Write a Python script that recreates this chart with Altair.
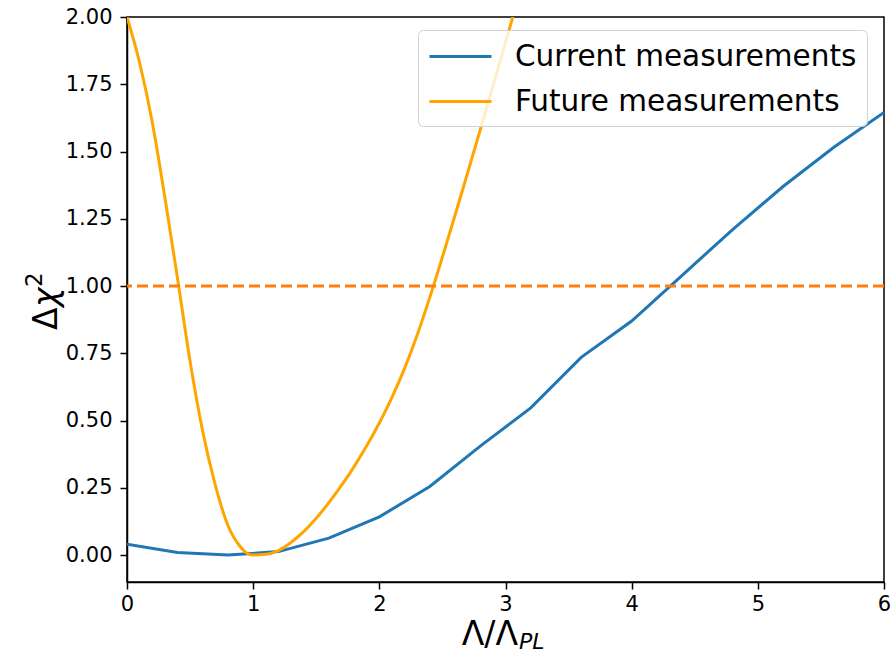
import altair as alt
import pandas as pd

# Current measurements (piecewise linear)
cur_x = [0.0, 0.4, 0.8, 1.2, 1.6, 2.0, 2.4, 2.8, 3.2, 3.6, 4.0, 4.4, 4.8, 5.2, 5.6, 6.0]
cur_y = [0.04, 0.01, 0.0, 0.013, 0.063, 0.142, 0.255, 0.405, 0.547, 0.735, 0.87, 1.04, 1.21, 1.37, 1.515, 1.645]

# Future measurements (smooth curve)
fut_x = [0.0, 0.1, 0.2, 0.3, 0.4, 0.5, 0.6, 0.7, 0.8, 0.9, 0.95, 1.0, 1.1, 1.2, 1.3, 1.4, 1.5,
         1.6, 1.7, 1.8, 1.9, 2.0, 2.1, 2.2, 2.3, 2.4, 2.5, 2.6, 2.7, 2.8, 2.9, 3.0, 3.1]
fut_y = [2.0, 1.83, 1.61, 1.33, 1.03, 0.72, 0.46, 0.26, 0.11, 0.03, 0.007, 0.0, 0.003, 0.017, 0.047, 0.087, 0.137,
         0.195, 0.259, 0.329, 0.406, 0.491, 0.586, 0.694, 0.818, 0.958, 1.108, 1.263, 1.421, 1.581, 1.743, 1.906, 2.069]

threshold = [1.0]
series_names = ["Current measurements", "Future measurements"]
series_colors = ["#1f77b4", "orange"]

df_cur = pd.DataFrame({"x": cur_x, "y": cur_y, "series": series_names[0]})
df_fut = pd.DataFrame({"x": fut_x, "y": fut_y, "series": series_names[1]})
df_thr = pd.DataFrame({"y": threshold})

FONT = "DejaVu Sans"

xscale = alt.Scale(domain=[0, 6], nice=False, zero=False)
yscale = alt.Scale(domain=[-0.1, 2.0], nice=False, zero=False)
cscale = alt.Scale(domain=series_names, range=series_colors)

xenc = alt.X("x:Q", scale=xscale,
             axis=alt.Axis(values=[0, 1, 2, 3, 4, 5, 6], format="d", title=None, labelFlush=False))
yenc = alt.Y("y:Q", scale=yscale,
             axis=alt.Axis(values=[0, 0.25, 0.5, 0.75, 1.0, 1.25, 1.5, 1.75, 2.0],
                           format=".2f", title=None))

legend = alt.Legend(title=None, orient="none", legendX=291, legendY=13,
                    symbolType="M-1,0H3.13", symbolSize=900,
                    symbolStrokeWidth=3, labelFontSize=29.5, labelLimit=600,
                    labelFont=FONT, labelColor="black",
                    labelOffset=54, rowPadding=14, padding=10,
                    fillColor="rgba(255,255,255,0.8)",
                    strokeColor="#d0d0d0", cornerRadius=5)

cur = alt.Chart(df_cur).mark_line(strokeWidth=3, clip=True).encode(
    x=xenc, y=yenc, color=alt.Color("series:N", scale=cscale, legend=legend)
)
fut = alt.Chart(df_fut).mark_line(strokeWidth=3, clip=True, interpolate="monotone").encode(
    x=xenc, y=yenc, color=alt.Color("series:N", scale=cscale, legend=legend)
)

rule = alt.Chart(df_thr).mark_rule(color="#ff7f0e", strokeWidth=3, strokeDash=[11, 5]).encode(
    y=alt.Y("y:Q", scale=yscale)
)

def txt(s, x, y, size, style="normal", angle=0):
    kw = dict(font=FONT, fontSize=size, fontStyle=style, align="left",
              baseline="alphabetic", color="black")
    if angle:
        kw["angle"] = angle
    return alt.Chart(pd.DataFrame({"t": [s]})).mark_text(**kw).encode(
        text="t:N", x=alt.value(x), y=alt.value(y))

# x-axis title: Λ/Λ_PL
xt1 = alt.Chart(pd.DataFrame({"t": ["Λ/Λ"]})).mark_text(
    font=FONT, fontSize=33, align="right", baseline="alphabetic", color="black"
).encode(text="t:N", x=alt.value(391), y=alt.value(628))
xt2 = txt("PL", 392, 632, 22, style="italic")

# y-axis title: Δχ²  (rotated)
yt1 = txt("Δ", -70, 313, 33, angle=270)
yt2 = txt("χ", -70, 290, 33, style="italic", angle=270)
yt3 = txt("2", -85, 270, 23, angle=270)

chart = alt.layer(cur, fut, rule, xt1, xt2, yt1, yt2, yt3).properties(
    width=757, height=565,
    autosize=alt.AutoSizeParams(type="none"),
    padding={"left": 127, "top": 17, "right": 10, "bottom": 72},
).configure_view(
    stroke="black", strokeWidth=1.5
).configure_axis(
    grid=False, domainColor="black", domainWidth=1.5, tickColor="black", tickWidth=1.5,
    tickSize=7, labelFont=FONT, labelFontSize=21, labelColor="black",
).configure_axisY(labelPadding=8).configure_axisX(labelPadding=4)

chart.save("out.html", embed_options={"renderer": "svg", "actions": False})
